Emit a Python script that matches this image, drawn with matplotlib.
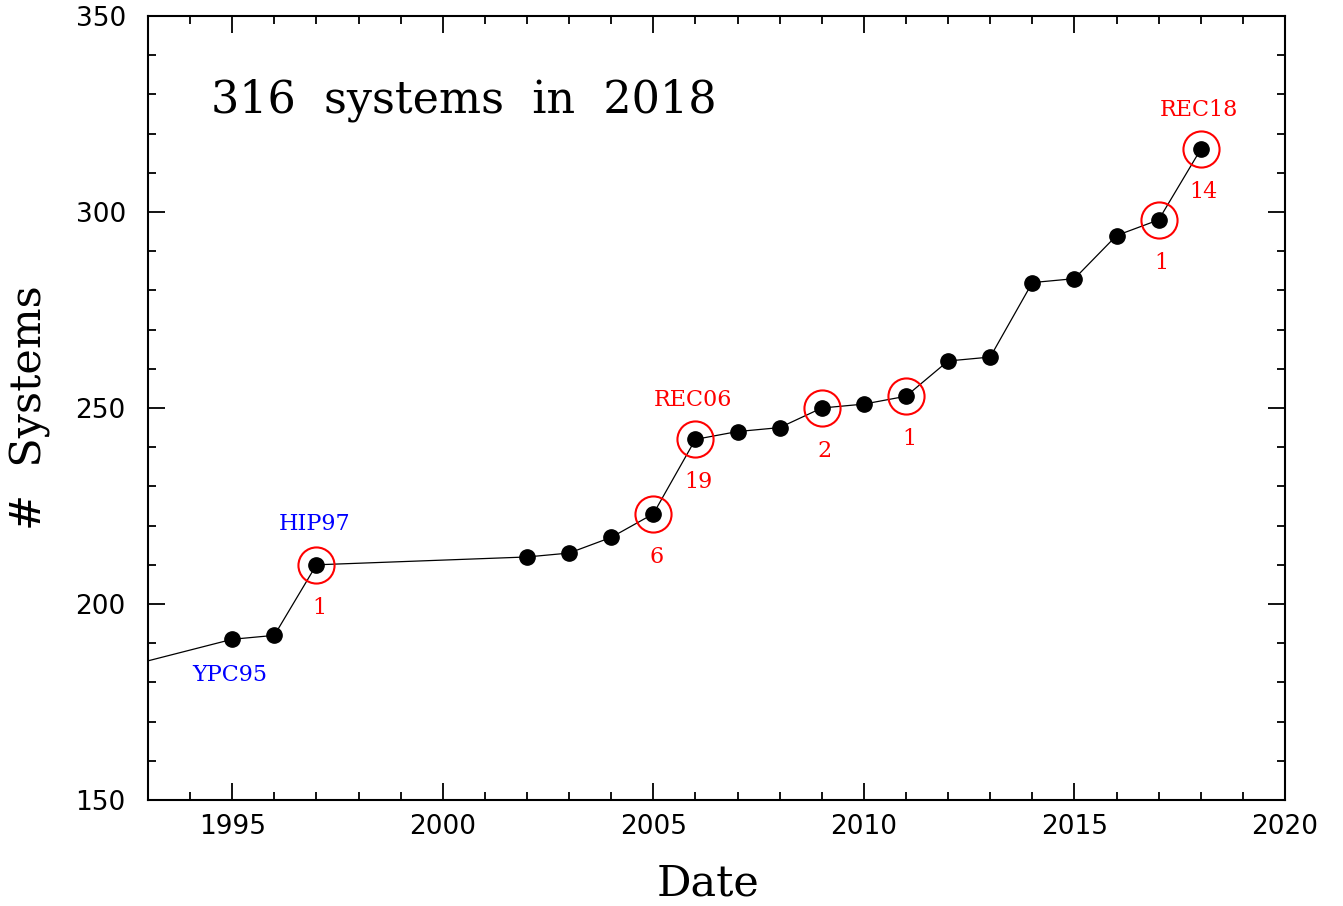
import matplotlib
matplotlib.use('Agg')
import matplotlib.pyplot as plt
from matplotlib.ticker import MultipleLocator

# Datos
years = [1991, 1995, 1996, 1997, 2002, 2003, 2004, 2005, 2006, 2007, 2008,
         2009, 2010, 2011, 2012, 2013, 2014, 2015, 2016, 2017, 2018]
n_systems = [180, 191, 192, 210, 212, 213, 217, 223, 242, 244, 245,
             250, 251, 253, 262, 263, 282, 283, 294, 298, 316]

circled_years = [1997, 2005, 2006, 2009, 2011, 2017, 2018]
circled_counts = [210, 223, 242, 250, 253, 298, 316]
added_labels = ['1', '6', '19', '2', '1', '1', '14']

catalog_names = ['YPC95', 'HIP97', 'REC06', 'REC18']
catalog_years = [1995, 1997, 2006, 2018]
catalog_colors = ['blue', 'blue', 'red', 'red']

fig = plt.figure(figsize=(13.43, 9.06), dpi=100)
ax = fig.add_axes([0.1102, 0.117, 0.8466, 0.8653])

ax.plot(years, n_systems, color='black', lw=0.9, zorder=2)
ax.plot(years, n_systems, 'o', color='black', ms=11, zorder=3)
ax.plot(circled_years, circled_counts, 'o', mfc='none', mec='red', ms=26, mew=1.5, zorder=4)

serif = 'DejaVu Serif'
for yr, cnt, lab in zip(circled_years, circled_counts, added_labels):
    ax.text(yr + 0.07, cnt - 11, lab, color='red', fontsize=16, family=serif,
            ha='center', va='center')

cat_y = [182, 220.5, 252, 326]
for name, yr, yy, col in zip(catalog_names, catalog_years, cat_y, catalog_colors):
    ax.text(yr - 0.05, yy, name, color=col, fontsize=16, family=serif,
            ha='center', va='center')

ax.text(1994.5, 328.5, '316  systems  in  2018', fontsize=32, family=serif,
        ha='left', va='center')

ax.set_xlim(1993, 2020)
ax.set_ylim(150, 350)
ax.xaxis.set_major_locator(MultipleLocator(5))
ax.xaxis.set_minor_locator(MultipleLocator(1))
ax.yaxis.set_major_locator(MultipleLocator(50))
ax.yaxis.set_minor_locator(MultipleLocator(10))
ax.tick_params(which='both', direction='in', top=True, right=True, width=1.3)
ax.tick_params(which='major', length=12, labelsize=19)
ax.tick_params(which='minor', length=6)
ax.tick_params(axis='x', which='major', pad=10)
ax.tick_params(axis='y', which='major', pad=16)
for lab in ax.get_xticklabels() + ax.get_yticklabels():
    lab.set_family('DejaVu Sans')
for sp in ax.spines.values():
    sp.set_linewidth(1.5)

ax.set_xlabel('Date', fontsize=31, family=serif, va='center')
ax.set_ylabel('#  Systems', fontsize=31, family=serif, va='center')
ax.xaxis.set_label_coords(0.4925, -0.107)
ax.yaxis.set_label_coords(-0.104, 0.5)

fig.savefig('out.png', dpi=100)
